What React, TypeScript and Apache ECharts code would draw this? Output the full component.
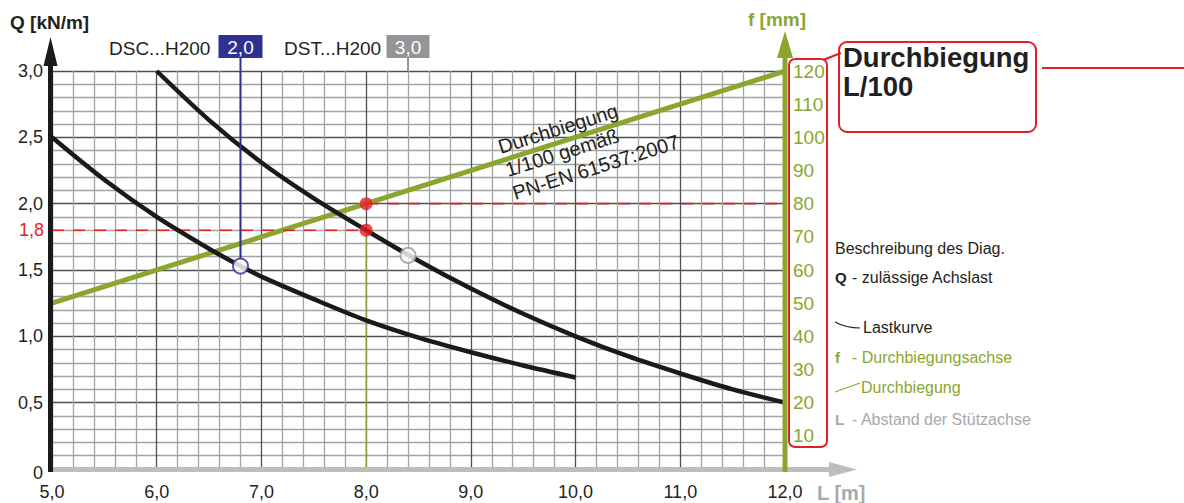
import React, { useEffect, useRef } from "react";
import * as echarts from "echarts";

const FONT = '"Liberation Sans", Arial, Helvetica, sans-serif';
const BLACK = "#231f20";
const CURVE = "#1a1a1a";
const GREEN = "#8ba62e";
const RED = "#e31e24";
const BLUE = "#2e3192";
const GREY = "#939598";
const LIGHT_GREY = "#a7a9ac";

// ---- data ----
const xMin = 5;
const xMax = 12;
const qMax = 3;
const fMax = 120;
const dscLengths = [5.0, 5.5, 6.0, 6.5, 6.8, 7.0, 7.5, 8.0, 8.5, 9.0, 9.5, 10.0];
const dscLoads = [2.5, 2.18, 1.9, 1.66, 1.53, 1.45, 1.28, 1.12, 0.99, 0.88, 0.78, 0.69];
const dstLengths = [6.0, 6.5, 7.0, 7.5, 8.0, 8.5, 9.0, 9.5, 10.0, 10.5, 11.0, 11.5, 12.0];
const dstLoads = [3.0, 2.63, 2.31, 2.04, 1.8, 1.57, 1.36, 1.17, 1.0, 0.85, 0.72, 0.6, 0.5];
const deflectionLengths = [5.0, 12.0];
const deflectionMm = [50, 120];
const readLength = 8.0;
const readLoad = 1.8;
const readLoadLabel = "1,8";
const readDeflectionLoad = 2.0;
const dscPoint = [6.8, 1.53];
const dstPoint = [8.4, 1.61];
const dscName = "DSC...H200";
const dscBadge = "2,0";
const dstName = "DST...H200";
const dstBadge = "3,0";
const annotationLines = ["Durchbiegung", "1/100 gemäß", "PN-EN 61537:2007"];
const boxTitle = ["Durchbiegung", "L/100"];
const yTitle = "Q [kN/m]";
const fTitle = "f [mm]";
const xTitle = "L [m]";

const fmt1 = (v: number) => v.toFixed(1).replace(".", ",");
const pairs = (xs: number[], ys: number[]) => xs.map((x, i) => [x, ys[i]]);

export default function App() {
  const ref = useRef<HTMLDivElement | null>(null);

  useEffect(() => {
    document.body.style.margin = "0";
    if (!ref.current) return;
    const chart = echarts.init(ref.current, null, { renderer: "svg" });

    const option: any = {
      animation: false,
      backgroundColor: "#ffffff",
      textStyle: { fontFamily: FONT },
      grid: { left: 52, right: 399, top: 71, bottom: 34 },
      xAxis: {
        type: "value",
        min: xMin,
        max: xMax,
        interval: 1,
        axisLine: { show: false },
        axisTick: { show: false },
        axisLabel: {
          formatter: (v: number) => fmt1(v),
          fontSize: 18,
          lineHeight: 18,
          color: BLACK,
          margin: 14,
          fontFamily: FONT,
          showMinLabel: true,
          showMaxLabel: true,
        },
        splitLine: { show: true, lineStyle: { color: "#505050", width: 1.3 } },
        minorTick: { show: false, splitNumber: 5 },
        minorSplitLine: { show: true, lineStyle: { color: "#a3a3a3", width: 1.3 } },
      },
      yAxis: [
        {
          type: "value",
          min: 0,
          max: qMax,
          interval: 0.5,
          axisLine: { show: false },
          axisTick: { show: false },
          axisLabel: {
            formatter: (v: number) => (v === 0 ? "{z|0}" : fmt1(v)),
            fontSize: 18,
            color: BLACK,
            margin: 9,
            fontFamily: FONT,
            rich: {
              z: { fontSize: 18, lineHeight: 18, color: BLACK, fontFamily: FONT, padding: [8, 0, 0, 0] },
            },
          },
          splitLine: { show: true, lineStyle: { color: "#505050", width: 1.3 } },
          minorTick: { show: false, splitNumber: 5 },
          minorSplitLine: { show: true, lineStyle: { color: "#a3a3a3", width: 1.3 } },
        },
        {
          type: "value",
          min: 0,
          max: fMax,
          interval: 10,
          position: "right",
          axisLine: { show: false },
          axisTick: { show: false },
          splitLine: { show: false },
          axisLabel: {
            formatter: (v: number) => (v === 0 ? "" : String(v)),
            fontSize: 19,
            color: GREEN,
            margin: 8,
            fontFamily: FONT,
          },
        },
      ],
      series: [
        {
          type: "line",
          name: "Durchbiegung",
          yAxisIndex: 1,
          data: pairs(deflectionLengths, deflectionMm),
          showSymbol: false,
          symbol: "none",
          lineStyle: { color: GREEN, width: 5 },
          z: 3,
        },
        {
          type: "line",
          data: [[readLength, 0], [readLength, readLoad]],
          symbol: "none",
          lineStyle: { color: "#9bb83a", width: 1.2 },
          z: 2,
        },
        {
          type: "line",
          data: [[xMin, readLoad], [readLength, readLoad]],
          symbol: "none",
          lineStyle: { color: RED, width: 1.6, type: [12, 9] },
          z: 4,
        },
        {
          type: "line",
          data: [[readLength, readDeflectionLoad], [xMax, readDeflectionLoad]],
          symbol: "none",
          lineStyle: { color: RED, width: 1.6, type: [12, 9] },
          z: 4,
        },
        {
          type: "line",
          name: dscName,
          data: pairs(dscLengths, dscLoads),
          smooth: 0.3,
          symbol: "none",
          lineStyle: { color: CURVE, width: 4.5 },
          z: 5,
        },
        {
          type: "line",
          name: dstName,
          data: pairs(dstLengths, dstLoads),
          smooth: 0.3,
          symbol: "none",
          lineStyle: { color: CURVE, width: 4.5 },
          z: 5,
        },
        {
          type: "scatter",
          data: [[readLength, readDeflectionLoad], [readLength, readLoad]],
          symbolSize: 13,
          itemStyle: { color: RED },
          z: 7,
        },
        {
          type: "scatter",
          data: [dscPoint],
          symbolSize: 15,
          itemStyle: { color: "#ffffff", borderColor: BLUE, borderWidth: 2 },
          z: 7,
        },
        {
          type: "scatter",
          data: [dstPoint],
          symbolSize: 15,
          itemStyle: { color: "#ffffff", borderColor: "#9a9a9a", borderWidth: 2 },
          z: 7,
        },
      ],
    };
    chart.setOption(option);

    const toPx = (x: number, y: number) =>
      chart.convertToPixel({ xAxisIndex: 0, yAxisIndex: 0 }, [x, y]) as number[];
    const [xL, yB] = toPx(xMin, 0);
    const [xR, yT] = toPx(xMax, qMax);
    const [, yRead] = toPx(readLength, readLoad);
    const [xDsc, yDsc] = toPx(dscPoint[0], dscPoint[1]);
    const [xDst] = toPx(dstPoint[0], dstPoint[1]);

    const txt = (
      x: number,
      y: number,
      text: string,
      color: string,
      size: number,
      weight: string = "normal",
      align: string = "left",
      extra: any = {}
    ) => ({
      type: "text",
      x,
      y,
      z: 60,
      silent: true,
      rotation: extra.rotation || 0,
      style: {
        text,
        fill: color,
        fontSize: size,
        fontWeight: weight,
        fontFamily: FONT,
        align,
        textAlign: align,
        verticalAlign: extra.vAlign || "middle",
        textVerticalAlign: extra.vAlign || "middle",
        lineHeight: extra.lineHeight,
      },
    });

    const ax = xL - 1.5;
    const graphic: any[] = [
      // x axis (grey) with arrow
      {
        type: "line", z: 50, silent: true,
        shape: { x1: xL - 3, y1: yB + 0.5, x2: 832, y2: yB + 0.5 },
        style: { stroke: "#bdbdbd", lineWidth: 5 },
      },
      {
        type: "polygon", z: 50, silent: true,
        shape: { points: [[857, yB + 0.5], [829, yB - 7], [829, yB + 8]] },
        style: { fill: "#bdbdbd" },
      },
      // y axis (black) with arrow
      {
        type: "line", z: 51, silent: true,
        shape: { x1: ax, y1: yB + 3, x2: ax, y2: 62 },
        style: { stroke: "#1a1a1a", lineWidth: 5 },
      },
      {
        type: "polygon", z: 51, silent: true,
        shape: { points: [[ax, 37], [ax - 7, 66], [ax + 7, 66]] },
        style: { fill: "#1a1a1a" },
      },
      // f axis (green) with arrow
      {
        type: "line", z: 52, silent: true,
        shape: { x1: xR, y1: yB + 3, x2: xR, y2: 55 },
        style: { stroke: GREEN, lineWidth: 5 },
      },
      {
        type: "polygon", z: 52, silent: true,
        shape: { points: [[xR, 31], [xR - 8, 58], [xR + 8, 58]] },
        style: { fill: GREEN },
      },
      txt(10, 22, yTitle, BLACK, 19, "bold"),
      txt(xR - 8, 19, fTitle, GREEN, 19, "bold", "center"),
      txt(817, 493, xTitle, LIGHT_GREY, 20, "bold"),
      txt(xL - 8, yRead, readLoadLabel, RED, 18, "normal", "right"),
      // series labels
      txt(109, 48, dscName, BLACK, 19),
      {
        type: "rect", z: 55, silent: true,
        shape: { x: xDsc - 22, y: 35, width: 44, height: 23 },
        style: { fill: BLUE },
      },
      txt(xDsc, 47, dscBadge, "#ffffff", 19, "normal", "center"),
      {
        type: "line", z: 6, silent: true,
        shape: { x1: xDsc, y1: 58, x2: xDsc, y2: yDsc - 7 },
        style: { stroke: BLUE, lineWidth: 2 },
      },
      txt(284, 48, dstName, BLACK, 19),
      {
        type: "rect", z: 55, silent: true,
        shape: { x: xDst - 21.5, y: 35, width: 43, height: 23 },
        style: { fill: GREY },
      },
      txt(xDst, 47, dstBadge, "#ffffff", 19, "normal", "center"),
      {
        type: "line", z: 6, silent: true,
        shape: { x1: xDst, y1: 58, x2: xDst, y2: yT },
        style: { stroke: GREY, lineWidth: 2 },
      },
      // rotated annotation along deflection line
      txt(495, 136, annotationLines.join("\n"), BLACK, 20, "normal", "left", {
        rotation: (17.5 * Math.PI) / 180,
        vAlign: "top",
        lineHeight: 24,
      }),
      // red boxes
      {
        type: "rect", z: 55, silent: true,
        shape: { x: xR + 4, y: 59, width: 38, height: 388, r: 6 },
        style: { fill: "none", stroke: RED, lineWidth: 2 },
      },
      {
        type: "rect", z: 55, silent: true,
        shape: { x: 839, y: 42, width: 197, height: 90, r: 8 },
        style: { fill: "none", stroke: RED, lineWidth: 2 },
      },
      {
        type: "line", z: 55, silent: true,
        shape: { x1: 823, y1: 60, x2: 841, y2: 53 },
        style: { stroke: RED, lineWidth: 2 },
      },
      {
        type: "line", z: 55, silent: true,
        shape: { x1: 1042, y1: 68, x2: 1184, y2: 68 },
        style: { stroke: RED, lineWidth: 2 },
      },
      txt(843, 57, boxTitle[0], BLACK, 27.5, "bold"),
      txt(843, 86, boxTitle[1], BLACK, 27.5, "bold"),
      // description
      txt(835, 248, "Beschreibung des Diag.", BLACK, 16),
      txt(835, 277, "Q", BLACK, 15, "bold"),
      txt(852, 277, "- zulässige Achslast", BLACK, 16),
      {
        type: "bezierCurve", z: 55, silent: true,
        shape: { x1: 835, y1: 322, x2: 860, y2: 328, cpx1: 846, cpy1: 328 },
        style: { stroke: BLACK, lineWidth: 1.2, fill: "none" },
      },
      txt(863, 327, "Lastkurve", BLACK, 16),
      txt(835, 357, "f", GREEN, 15, "bold"),
      txt(852, 357, "- Durchbiegungsachse", GREEN, 16),
      {
        type: "line", z: 55, silent: true,
        shape: { x1: 835, y1: 392, x2: 860, y2: 383 },
        style: { stroke: GREEN, lineWidth: 1.2 },
      },
      txt(861, 387, "Durchbiegung", GREEN, 16),
      txt(835, 419, "L", LIGHT_GREY, 15, "bold"),
      txt(852, 419, "- Abstand der Stützachse", LIGHT_GREY, 16),
    ];
    chart.setOption({ graphic });

    return () => chart.dispose();
  }, []);

  return <div ref={ref} style={{ width: 1184, height: 503 }} />;
}
